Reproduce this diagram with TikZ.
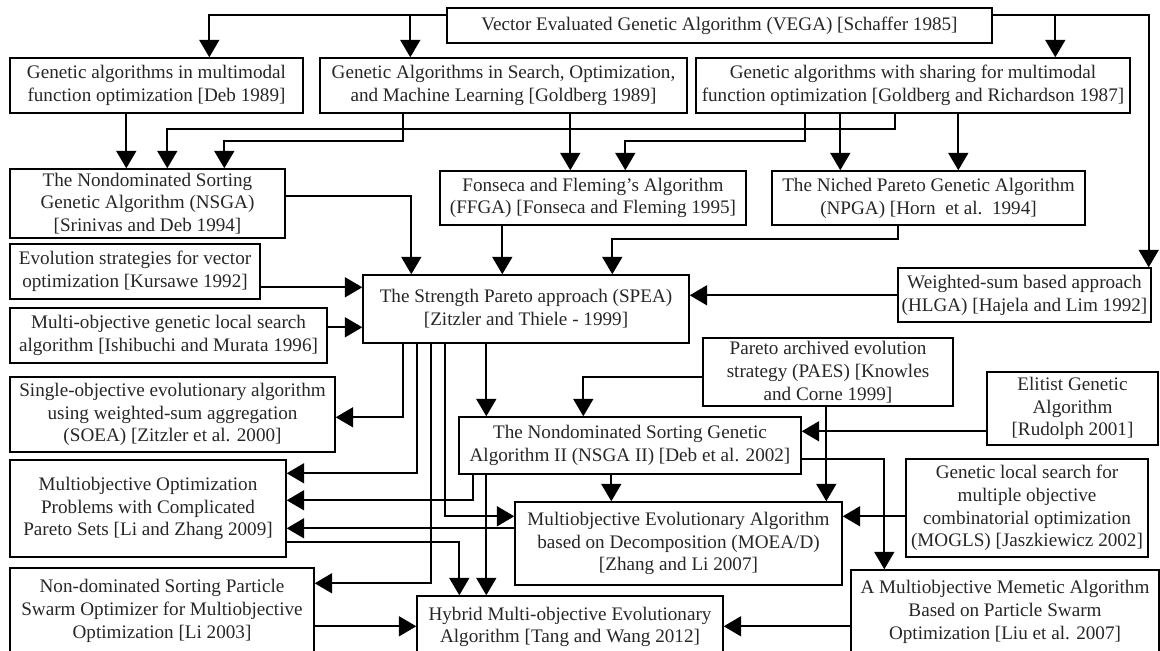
\documentclass[tikz,border=0pt]{standalone}
\usepackage{fontspec}
\setmainfont{Liberation Serif}
\usetikzlibrary{arrows.meta,calc,positioning}

\begin{document}
\begin{tikzpicture}[x=0.02cm,y=-0.02cm]
	\useasboundingbox (0,0) rectangle (1160,651);
	\clip (0,0) rectangle (1160,651);
	\begin{scope}[every node/.style={draw,line width=0.8pt,align=center,inner sep=0pt,
		font=\fontsize{10.9}{13}\selectfont,text=black!85},
		box/.style 2 args={minimum width=#1*0.02cm,minimum height=#2*0.02cm}]
		\node[box={545}{35}] (vega) at (719.5,25.5) {Vector Evaluated Genetic Algorithm (VEGA) [Schaffer 1985]};
		\node[box={293}{55}] (deb) at (156.5,85.5) {Genetic algorithms in multimodal\\function optimization [Deb 1989]};
		\node[box={367}{55}] (gold) at (503.5,85.5) {Genetic Algorithms in Search, Optimization,\\and Machine Learning [Goldberg 1989]};
		\node[box={434}{55}] (sharing) at (913,85.5) {Genetic algorithms with sharing for multimodal\\function optimization [Goldberg and Richardson 1987]};
		\node[box={275}{69}] (nsga) at (147.5,203.5) {The Nondominated Sorting\\Genetic Algorithm (NSGA)\\{}[Srinivas and Deb 1994]};
		\node[box={306}{54}] (ffga) at (593,198) {Fonseca and Fleming's Algorithm\\(FFGA) [Fonseca and Fleming 1995]};
		\node[box={313}{54}] (npga) at (928.5,198) {The Niched Pareto Genetic Algorithm\\(NPGA) [Horn\ \ et al.\ \ 1994]};
		\node[box={250}{55}] (kurs) at (135,271.5) {Evolution strategies for vector\\optimization [Kursawe 1992]};
		\node[box={326}{68}] (spea) at (526,309) {The Strength Pareto approach (SPEA)\\{}[Zitzler and Thiele - 1999]};
		\node[box={253}{54}] (wsum) at (1024.5,295) {Weighted-sum based approach\\(HLGA) [Hajela and Lim 1992]};
		\node[box={317}{55}] (ishi) at (168.5,335.5) {Multi-objective genetic local search\\algorithm [Ishibuchi and Murata 1996]};
		\node[box={250}{68}] (paes) at (828,372) {Pareto archived evolution\\strategy (PAES) [Knowles\\and Corne 1999]};
		\node[box={171}{73}] (elit) at (1072.5,408.5) {Elitist Genetic\\Algorithm\\{}[Rudolph 2001]};
		\node[box={325}{75}] (soea) at (172.5,414.5) {Single-objective evolutionary algorithm\\using weighted-sum aggregation\\(SOEA) [Zitzler et al. 2000]};
		\node[box={342}{57}] (nsgaii) at (630,445.5) {The Nondominated Sorting Genetic\\Algorithm II (NSGA II) [Deb et al. 2002]};
		\node[box={242}{98}] (mogls) at (1027,508) {Genetic local search for\\multiple objective\\combinatorial optimization\\(MOGLS) [Jaszkiewicz 2002]};
		\node[box={276}{97}] (mop) at (148,508.5) {Multiobjective Optimization\\Problems with Complicated\\Pareto Sets [Li and Zhang 2009]};
		\node[box={327}{83}] (moead) at (678.5,543.5) {Multiobjective Evolutionary Algorithm\\based on Decomposition (MOEA/D)\\{}[Zhang and Li 2007]};
		\node[box={304}{86}] (nspso) at (162,611) {Non-dominated Sorting Particle\\Swarm Optimizer for Multiobjective\\Optimization [Li 2003]};
		\node[box={308}{84}] (mema) at (1005,612) {A Multiobjective Memetic Algorithm\\Based on Particle Swarm\\Optimization [Liu et al. 2007]};
		\node[box={306}{62}] (hybrid) at (570,627) {Hybrid Multi-objective Evolutionary\\Algorithm [Tang and Wang 2012]};
	\end{scope}

	\begin{scope}[>={Triangle[length=0.35cm,width=0.4cm]},line width=1.1pt]
		% from VEGA
		\draw[->] ($(vega.north west)+(0,8)$) -| ($(deb.north west)+(200,0)$);
		\draw[->] ($(vega.north west)+(0,8)$) -| ($(gold.north west)+(91,0)$);
		\draw[->] ($(vega.north east)+(0,8)$) -| ($(sharing.north west)+(360,0)$);
		\draw[->] ($(vega.north east)+(0,8)$) -| ($(wsum.north east)+(-3,0)$);
		% second row
		\draw[->] ($(deb.south west)+(117,0)$) -- ($(nsga.north west)+(117,0)$);
		\draw[->] ($(gold.south west)+(84,0)$) -- ++(0,27) -| ($(nsga.north west)+(215,0)$);
		\draw[->] ($(gold.south west)+(251,0)$) -- ($(ffga.north west)+(131,0)$);
		\draw[->] ($(sharing.south west)+(200,0)$) -- ++(0,15) -| ($(nsga.north west)+(158,0)$);
		\draw[->] ($(sharing.south west)+(110,0)$) -- ++(0,27) -| ($(ffga.north west)+(186,0)$);
		\draw[->] ($(sharing.south west)+(145,0)$) -- ($(npga.north west)+(69,0)$);
		\draw[->] ($(sharing.south west)+(263,0)$) -- ($(npga.north west)+(187,0)$);
		% into SPEA
		\draw[->] ($(nsga.north east)+(0,28)$) -| ($(spea.north west)+(49,0)$);
		\draw[->] ($(ffga.south west)+(63,0)$) -- ($(spea.north west)+(140,0)$);
		\draw[->] ($(npga.south west)+(127,0)$) -- ++(0,13) -| ($(spea.north west)+(250,0)$);
		\draw[->] ($(wsum.north west)+(0,28)$) -- ($(spea.north east)+(0,21)$);
		\draw[->] ($(kurs.north east)+(0,44)$) -- ($(spea.north west)+(0,13)$);
		\draw[->] ($(ishi.north east)+(0,20)$) -- ($(spea.north west)+(0,53)$);
		% out of SPEA
		\draw[->] ($(spea.south west)+(41,0)$) |- ($(soea.north east)+(0,41)$);
		\draw[->] ($(spea.south west)+(55,0)$) |- ($(mop.north east)+(0,14)$);
		\draw[->] ($(spea.south west)+(69,0)$) |- ($(nspso.north east)+(0,16)$);
		\draw[->] ($(spea.south west)+(83,0)$) |- ($(moead.north west)+(0,15)$);
		\draw[->] ($(spea.south west)+(124,0)$) -- ($(nsgaii.north west)+(28,0)$);
		% PAES and Elitist
		\draw[->] ($(paes.north west)+(0,40)$) -| ($(nsgaii.north west)+(125,0)$);
		\draw[->] ($(paes.south west)+(124,0)$) -- ($(moead.north west)+(312,0)$);
		\draw[->] ($(elit.north west)+(0,60)$) -- ($(nsgaii.north east)+(0,15)$);
		% out of NSGA II
		\draw[->] ($(nsgaii.south west)+(15,0)$) |- ($(mop.north east)+(0,41)$);
		\draw[->] ($(nsgaii.south west)+(28,0)$) -- ($(hybrid.north west)+(70,0)$);
		\draw[->] ($(nsgaii.south west)+(153,0)$) -- ($(moead.north west)+(97,0)$);
		\draw[->] ($(nsgaii.north east)+(0,43)$) -| ($(mema.north west)+(34,0)$);
		% bottom rows
		\draw[->] ($(mogls.north west)+(0,58)$) -- ($(moead.north east)+(0,15)$);
		\draw[->] ($(moead.north west)+(0,27)$) -- ($(mop.north east)+(0,69)$);
		\draw[->] ($(mop.north east)+(0,83)$) -| ($(hybrid.north west)+(43,0)$);
		\draw[->] ($(nspso.north east)+(0,59)$) -- ($(hybrid.north west)+(0,31)$);
		\draw[->] ($(mema.north west)+(0,57)$) -- ($(hybrid.north east)+(0,31)$);
	\end{scope}
\end{tikzpicture}
\end{document}
